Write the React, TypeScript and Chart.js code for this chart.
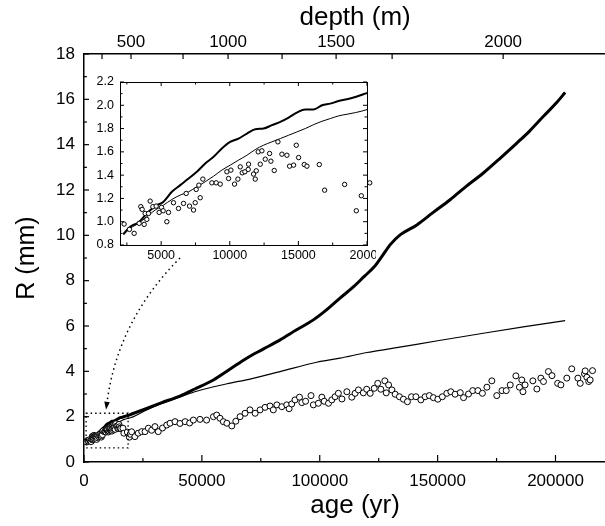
import React, { useEffect, useRef } from "react";
import { Chart, registerables } from "chart.js";
Chart.register(...registerables);

const FONT = '"Liberation Sans", Arial, Helvetica, sans-serif';

// ---------- data ----------
const thickAge = [2250, 2740, 3350, 3955, 4560, 5170, 5780, 6390, 7000, 7600, 8210, 8820, 9420, 10030, 10640, 11250, 11860, 12460, 13070, 13680, 14290, 14890, 15500, 16110, 16720, 17330, 17930, 18540, 19150, 20000, 26600, 33000, 40700, 47000, 54900, 62000, 69000, 76000, 83200, 90000, 97300, 103000, 108600, 114000, 119000, 123000, 126300, 130000, 134100, 141200, 148000, 155300, 162000, 169400, 176500, 183600, 189000, 194900, 200000, 204100];
const thickR = [0.894, 0.957, 0.994, 1.071, 1.134, 1.171, 1.257, 1.314, 1.371, 1.429, 1.5, 1.557, 1.629, 1.686, 1.714, 1.757, 1.794, 1.8, 1.829, 1.857, 1.894, 1.937, 1.963, 1.963, 2.0, 2.014, 2.037, 2.051, 2.071, 2.106, 2.37, 2.62, 2.91, 3.22, 3.62, 4.1, 4.58, 4.98, 5.39, 5.82, 6.27, 6.72, 7.23, 7.7, 8.2, 8.6, 9.06, 9.6, 10.02, 10.46, 11.0, 11.57, 12.15, 12.75, 13.4, 14.07, 14.6, 15.25, 15.8, 16.3];

const thinAge = [2250, 2740, 3350, 3955, 4560, 5170, 5780, 6390, 7000, 7600, 8210, 8820, 9420, 10030, 10640, 11250, 11860, 12460, 13070, 13680, 14290, 14890, 15500, 16110, 16720, 17330, 17930, 18540, 19150, 20000, 26600, 33000, 40700, 47000, 55000, 62000, 70400, 83200, 98700, 108600, 120000, 131300, 150000, 169400, 187000, 204100];
const thinR = [0.886, 0.943, 0.986, 1.043, 1.1, 1.143, 1.191, 1.229, 1.257, 1.3, 1.343, 1.391, 1.443, 1.486, 1.529, 1.571, 1.62, 1.657, 1.686, 1.714, 1.743, 1.771, 1.8, 1.834, 1.863, 1.886, 1.909, 1.923, 1.937, 1.963, 2.3, 2.58, 2.87, 3.1, 3.32, 3.48, 3.66, 3.99, 4.4, 4.58, 4.83, 5.02, 5.35, 5.68, 5.97, 6.24];

const obsAge = [1100, 1500, 1900, 2300,
  2690, 3031, 3396, 3517, 3614, 3760, 3833, 3955, 4076, 4198, 4392, 4635, 4854, 5024, 5146, 5413, 5535, 5899, 6264, 6629, 6823, 7066, 7358, 7480, 7552, 7747, 7844, 8039, 8695, 9011, 9303, 9789, 9911, 10081, 10348, 10591, 10762, 10907, 11102, 11345, 11369, 11734, 11855, 11928, 12074, 12220, 12341, 12584, 12900, 12997, 13240, 13508, 13800, 14164, 14359, 14651, 14845, 15016, 15429, 15623, 16523, 16912, 18370, 19221, 19586, 20200,
  21600, 23000, 24500, 25900, 27300, 28700, 30100, 31500, 33300, 35100, 36500, 38600, 40700, 42900, 44800, 46400, 49200, 52000, 54900, 56300, 57700, 59100, 60600, 62700, 64400, 66200, 68300,
  70400, 72600, 74700, 76800, 78900, 80300, 81800, 83900, 86000, 87000, 88100, 89500, 91400, 92400, 94000, 96300, 97300, 99400, 100900, 101900, 103700, 105100, 106500, 107900, 109400, 111500, 113600, 115000, 116400, 118500, 119900, 121400, 123100, 124600, 125900, 127600, 128200, 129200, 130600, 132000, 133800, 135500, 137200, 138900, 140800, 142900, 144700, 146500, 148200, 150100, 152000, 153900, 155600, 157400, 159600, 161000, 163100, 164900, 167100, 169000, 170900, 173000, 175100, 177300, 179100, 180800, 183200, 184700, 185700, 186200, 187100, 190400, 192100, 193800, 194900, 197000, 198500, 200900, 202300, 204800, 206900, 209500, 210500, 212300, 212600, 213300, 214100, 214700, 215700];
const obsR = [0.88, 0.95, 0.92, 0.98,
  0.934, 0.9, 0.986, 1.129, 1.106, 0.977, 1.071, 1.02, 1.071, 1.177, 1.129, 1.134, 1.08, 1.123, 1.094, 1.0, 1.08, 1.163, 1.114, 1.157, 1.243, 1.134, 1.1, 1.163, 1.277, 1.314, 1.206, 1.366, 1.334, 1.334, 1.323, 1.429, 1.371, 1.443, 1.323, 1.366, 1.471, 1.42, 1.429, 1.449, 1.494, 1.409, 1.366, 1.437, 1.6, 1.494, 1.609, 1.537, 1.586, 1.52, 1.44, 1.686, 1.58, 1.571, 1.477, 1.486, 1.657, 1.551, 1.491, 1.477, 1.491, 1.271, 1.32, 1.094, 1.223, 1.334,
  1.12, 1.27, 1.34, 1.34, 1.49, 1.4, 1.56, 1.34, 1.5, 1.63, 1.71, 1.78, 1.7, 1.78, 1.72, 1.85, 1.88, 1.85, 2.0, 2.07, 1.93, 1.78, 1.71, 1.59, 1.8, 2.0, 2.15,
  2.3, 2.15, 2.3, 2.41, 2.47, 2.3, 2.52, 2.44, 2.52, 2.35, 2.56, 2.74, 2.86, 2.62, 2.68, 2.93, 2.52, 2.59, 2.86, 2.68, 2.59, 2.74, 2.88, 3.03, 2.78, 3.1, 2.86, 3.03, 3.18, 3.05, 3.21, 3.03, 3.25, 3.47, 3.21, 3.58, 3.05, 3.4, 3.18, 2.99, 2.88, 2.77, 2.66, 2.88, 2.88, 2.74, 2.88, 2.93, 2.84, 2.77, 2.88, 3.03, 3.1, 2.99, 3.06, 2.84, 3.0, 3.15, 3.15, 3.03, 3.3, 3.58, 2.93, 3.15, 3.15, 3.4, 3.8, 3.3, 3.62, 3.1, 3.4, 3.58, 3.22, 3.7, 3.55, 3.99, 3.81, 3.47, 3.4, 3.7, 4.11, 3.7, 3.47, 3.89, 4.02, 3.74, 3.55, 3.62, 4.03];

// axis ticks
const xTicksMain = [0, 50000, 100000, 150000, 200000];
const xMinorMain = [25000, 75000, 125000, 175000];
const yTicksMain = [0, 2, 4, 6, 8, 10, 12, 14, 16, 18];
const yMinorMain = [1, 3, 5, 7, 9, 11, 13, 15, 17];
const depthTicks = [250, 500, 750, 1000, 1250, 1500, 1750, 2000];
const depthTickAges = [7640, 19950, 42010, 61110, 84020, 106940, 130700, 177800];
const insetXTicks = [5000, 10000, 15000, 20000];
const insetXMinor = [2500, 7500, 12500, 17500];
const insetYTicks = [0.8, 1.0, 1.2, 1.4, 1.6, 1.8, 2.0, 2.2];
const insetYMinor = [0.9, 1.1, 1.3, 1.5, 1.7, 1.9, 2.1];

// axis titles
const xTitle = "age (yr)";
const topTitle = "depth (m)";
const yTitle = "R (mm)";
const titleCenterAge = 115000;

// zoom box and arrow (data coordinates of the main chart)
const boxAge = [900, 18700];
const boxR = [0.62, 2.15];
const arrowAge = [40740, 14430, 9340]; // start, control, end
const arrowR = [9.0, 6.27, 2.3];

const pts = (xs: number[], ys: number[]) => xs.map((x, i) => ({ x, y: ys[i] }));

type TickSpec = { scale: string; sides: string[]; major: number[]; minor: number[]; majorLen: number; minorLen: number };

function tickPlugin(specs: TickSpec[], lw: number) {
  return {
    id: "inwardTicks",
    afterDraw(chart: any) {
      const ctx = chart.ctx;
      const a = chart.chartArea;
      ctx.save();
      ctx.strokeStyle = "#000";
      ctx.lineWidth = lw;
      for (const s of specs) {
        const sc = chart.scales[s.scale];
        const draw = (vals: number[], len: number) => {
          for (const v of vals) {
            const p = sc.getPixelForValue(v);
            for (const side of s.sides) {
              ctx.beginPath();
              if (side === "left") { ctx.moveTo(a.left, p); ctx.lineTo(a.left + len, p); }
              if (side === "right") { ctx.moveTo(a.right, p); ctx.lineTo(a.right - len, p); }
              if (side === "bottom") { ctx.moveTo(p, a.bottom); ctx.lineTo(p, a.bottom - len); }
              if (side === "top") { ctx.moveTo(p, a.top); ctx.lineTo(p, a.top + len); }
              ctx.stroke();
            }
          }
        };
        draw(s.major, s.majorLen);
        draw(s.minor, s.minorLen);
      }
      ctx.restore();
    },
  };
}

const annotPlugin = {
  id: "annot",
  afterDatasetsDraw(chart: any) {
    const ctx = chart.ctx;
    const xs = chart.scales.x;
    const ys = chart.scales.y;
    ctx.save();
    ctx.strokeStyle = "#000";
    // dotted zoom box
    const x0 = xs.getPixelForValue(boxAge[0]);
    const x1 = xs.getPixelForValue(boxAge[1]);
    const y0 = ys.getPixelForValue(boxR[0]);
    const y1 = ys.getPixelForValue(boxR[1]);
    ctx.lineWidth = 1.3;
    ctx.setLineDash([1.5, 3]);
    ctx.strokeRect(x0, y1, x1 - x0, y0 - y1);
    // dotted curved arrow
    const p0 = [xs.getPixelForValue(arrowAge[0]), ys.getPixelForValue(arrowR[0])];
    const c = [xs.getPixelForValue(arrowAge[1]), ys.getPixelForValue(arrowR[1])];
    const p2 = [xs.getPixelForValue(arrowAge[2]), ys.getPixelForValue(arrowR[2])];
    const dx = p2[0] - c[0], dy = p2[1] - c[1];
    const L = Math.hypot(dx, dy);
    const ux = dx / L, uy = dy / L;
    const hl = 8, hw = 2.8;
    const bx = p2[0] - ux * hl, by = p2[1] - uy * hl;
    ctx.lineWidth = 1.5;
    ctx.setLineDash([1.5, 3.5]);
    ctx.beginPath();
    ctx.moveTo(p0[0], p0[1]);
    ctx.quadraticCurveTo(c[0], c[1], bx, by);
    ctx.stroke();
    ctx.setLineDash([]);
    ctx.fillStyle = "#000";
    ctx.beginPath();
    ctx.moveTo(p2[0], p2[1]);
    ctx.lineTo(bx - uy * hw, by + ux * hw);
    ctx.lineTo(bx + uy * hw, by - ux * hw);
    ctx.closePath();
    ctx.fill();
    ctx.restore();
  },
};

const titlePlugin = {
  id: "axisTitles",
  afterDraw(chart: any) {
    const ctx = chart.ctx;
    const xs = chart.scales.x;
    const xt = chart.scales.xTop;
    const cx = xs.getPixelForValue(titleCenterAge);
    ctx.save();
    ctx.fillStyle = "#000";
    ctx.font = `26px ${FONT}`;
    ctx.textAlign = "center";
    ctx.textBaseline = "middle";
    ctx.fillText(xTitle, cx, xs.bottom - 20);
    ctx.fillText(topTitle, cx, xt.top + 18);
    ctx.restore();
  },
};

const boxPlugin = {
  id: "frame",
  afterDraw(chart: any) {
    const a = chart.chartArea;
    const ctx = chart.ctx;
    ctx.save();
    ctx.strokeStyle = "#000";
    ctx.lineWidth = 1;
    ctx.strokeRect(Math.round(a.left) + 0.5, Math.round(a.top) + 0.5, Math.round(a.right - a.left), Math.round(a.bottom - a.top));
    ctx.restore();
  },
};

const setTicks = (vals: number[]) => (s: any) => { s.ticks = vals.map((v) => ({ value: v })); };

export default function App() {
  const mainRef = useRef<HTMLCanvasElement>(null);
  const insetRef = useRef<HTMLCanvasElement>(null);

  useEffect(() => {
    const tickFont = { family: FONT, size: 17 };
    const main = new Chart(mainRef.current!, {
      type: "scatter",
      data: {
        datasets: [
          {
            type: "scatter",
            data: pts(obsAge, obsR),
            pointRadius: 3,
            pointHoverRadius: 3,
            pointBorderWidth: 1,
            pointBackgroundColor: "#fff",
            pointBorderColor: "#000",
            showLine: false,
          } as any,
          {
            type: "line",
            data: pts(thickAge, thickR),
            borderColor: "#000",
            borderWidth: 3,
            pointRadius: 0,
            cubicInterpolationMode: "monotone",
            fill: false,
          } as any,
          {
            type: "line",
            data: pts(thinAge, thinR),
            borderColor: "#000",
            borderWidth: 1.2,
            pointRadius: 0,
            cubicInterpolationMode: "monotone",
            fill: false,
          } as any,
        ],
      },
      options: {
        animation: false,
        responsive: false,
        devicePixelRatio: 1,
        layout: { padding: 0, autoPadding: false },
        plugins: { legend: { display: false }, tooltip: { enabled: false } },
        scales: {
          x: {
            type: "linear",
            position: "bottom",
            min: 0,
            max: 221000,
            afterBuildTicks: setTicks(xTicksMain),
            afterFit: (s: any) => { s.height = 64; s.paddingLeft = 0; s.paddingRight = 0; },
            ticks: { callback: (v: any) => String(v), font: tickFont, color: "#000", padding: 9, autoSkip: false, maxRotation: 0 },
            grid: { display: false, drawTicks: false },
            border: { display: true, color: "#000", width: 1.5 },
          },
          xTop: {
            type: "linear",
            position: "top",
            min: 0,
            max: 221000,
            afterBuildTicks: setTicks(depthTickAges),
            afterFit: (s: any) => { s.height = 54; s.paddingLeft = 0; s.paddingRight = 0; },
            ticks: {
              callback: (_v: any, i: number) => (depthTicks[i] % 500 === 0 ? String(depthTicks[i]) : ""),
              font: tickFont, color: "#000", padding: 1, autoSkip: false, maxRotation: 0,
            },
            grid: { display: false, drawTicks: false },
            border: { display: true, color: "#000", width: 1.5 },
          },
          y: {
            type: "linear",
            position: "left",
            min: 0,
            max: 18,
            afterBuildTicks: setTicks(yTicksMain),
            afterFit: (s: any) => { s.width = 84; s.paddingTop = 0; s.paddingBottom = 0; },
            ticks: { callback: (v: any) => String(v), font: tickFont, color: "#000", padding: 9, autoSkip: false },
            grid: { display: false, drawTicks: false },
            border: { display: true, color: "#000", width: 1.5 },
            title: { display: true, text: yTitle, color: "#000", font: { family: FONT, size: 25 }, padding: { top: 12, bottom: 0 } },
          },
        },
      } as any,
      plugins: [
        tickPlugin([
          { scale: "x", sides: ["bottom"], major: xTicksMain, minor: xMinorMain, majorLen: 7, minorLen: 4 },
          { scale: "xTop", sides: ["top"], major: depthTickAges, minor: [], majorLen: 5, minorLen: 0 },
          { scale: "y", sides: ["left"], major: yTicksMain, minor: yMinorMain, majorLen: 5, minorLen: 3 },
        ], 1.2),
        annotPlugin,
        titlePlugin,
      ] as any,
    });

    const insetFont = { family: FONT, size: 12.5 };
    const inset = new Chart(insetRef.current!, {
      type: "scatter",
      data: {
        datasets: [
          {
            type: "scatter",
            data: pts(obsAge, obsR),
            pointRadius: 2.2,
            pointHoverRadius: 2.2,
            pointBorderWidth: 1,
            pointBackgroundColor: "#fff",
            pointBorderColor: "#000",
            showLine: false,
            clip: { left: 0, top: 0, bottom: 0, right: 6 },
          } as any,
          {
            type: "line",
            data: pts(thickAge, thickR),
            borderColor: "#000",
            borderWidth: 2,
            pointRadius: 0,
            cubicInterpolationMode: "monotone",
            fill: false,
          } as any,
          {
            type: "line",
            data: pts(thinAge, thinR),
            borderColor: "#000",
            borderWidth: 1,
            pointRadius: 0,
            cubicInterpolationMode: "monotone",
            fill: false,
          } as any,
        ],
      },
      options: {
        animation: false,
        responsive: false,
        devicePixelRatio: 1,
        layout: { padding: { top: 12, right: 9, left: 0, bottom: 0 }, autoPadding: false },
        plugins: { legend: { display: false }, tooltip: { enabled: false } },
        scales: {
          x: {
            type: "linear",
            position: "bottom",
            min: 2000,
            max: 20000,
            afterBuildTicks: setTicks(insetXTicks),
            afterFit: (s: any) => { s.height = 20; s.paddingLeft = 0; s.paddingRight = 0; },
            ticks: { callback: (v: any) => String(v), font: insetFont, color: "#000", padding: 3, autoSkip: false, maxRotation: 0 },
            grid: { display: false, drawTicks: false },
            border: { display: false },
          },
          y: {
            type: "linear",
            position: "left",
            min: 0.8,
            max: 2.2,
            afterBuildTicks: setTicks(insetYTicks),
            afterFit: (s: any) => { s.width = 32; s.paddingTop = 0; s.paddingBottom = 0; },
            ticks: { callback: (v: any) => Number(v).toFixed(1), font: insetFont, color: "#000", padding: 6, autoSkip: false },
            grid: { display: false, drawTicks: false },
            border: { display: false },
          },
        },
      } as any,
      plugins: [
        boxPlugin,
        tickPlugin([
          { scale: "x", sides: ["bottom", "top"], major: insetXTicks, minor: insetXMinor, majorLen: 4, minorLen: 2.5 },
          { scale: "y", sides: ["left", "right"], major: insetYTicks, minor: insetYMinor, majorLen: 4, minorLen: 2.5 },
        ], 1),
      ] as any,
    });

    return () => {
      main.destroy();
      inset.destroy();
    };
  }, []);

  return (
    <div style={{ position: "fixed", left: 0, top: 0, width: 605, height: 526, background: "#fff" }}>
      <canvas ref={mainRef} width={605} height={526} style={{ position: "absolute", left: 0, top: 0, width: 605, height: 526, display: "block" }} />
      <canvas ref={insetRef} width={288} height={195} style={{ position: "absolute", left: 88, top: 70, width: 288, height: 195, display: "block" }} />
    </div>
  );
}
